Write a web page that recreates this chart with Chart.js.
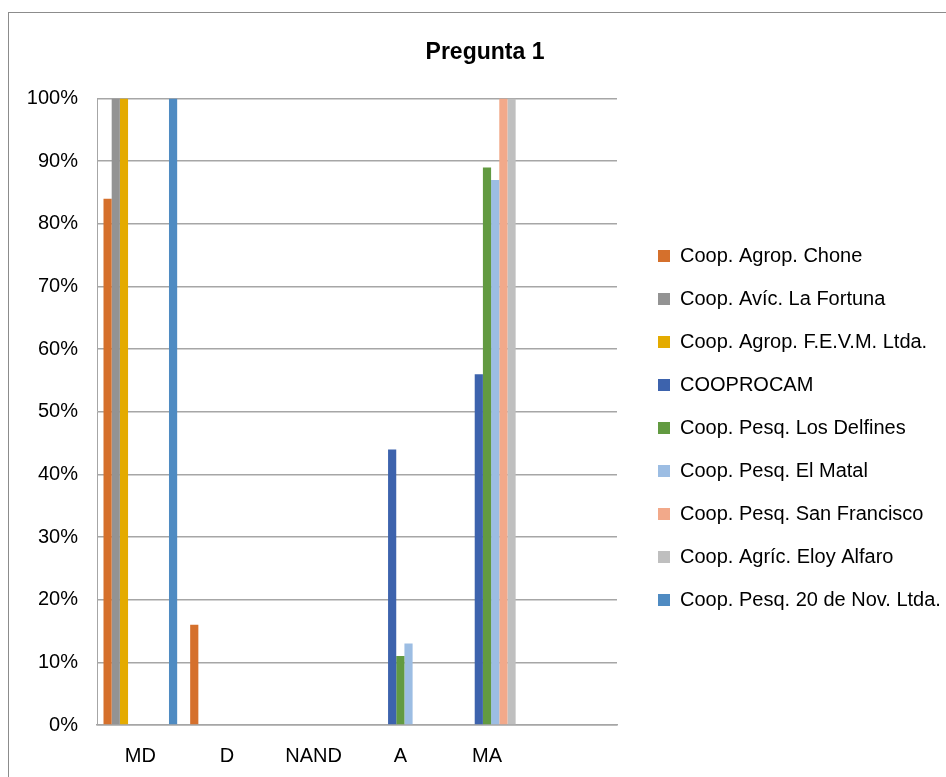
<!DOCTYPE html>
<html>
<head>
<meta charset="utf-8">
<title>Pregunta 1</title>
<script src="https://cdn.jsdelivr.net/npm/chart.js@4.4.1/dist/chart.umd.min.js"></script>
<style>
    html, body { margin: 0; padding: 0; background: #fff; overflow: hidden; }
    #frame {
        position: absolute; left: 8px; top: 12px; width: 1000px; height: 900px;
        border-left: 1px solid #8c8c8c; border-top: 1px solid #8c8c8c;
    }
    #chart { position: absolute; left: 9px; top: 13px; }
</style>
</head>
<body>
<div id="frame"></div>
<canvas id="chart" width="952" height="766"></canvas>
<script>
// Data (percent)
const categories = ['MD', 'D', 'NAND', 'A', 'MA', ''];
const seriesNames = [
    'Coop. Agrop. Chone',
    'Coop. Avíc. La Fortuna',
    'Coop. Agrop. F.E.V.M. Ltda.',
    'COOPROCAM',
    'Coop. Pesq. Los Delfines',
    'Coop. Pesq. El Matal',
    'Coop. Pesq. San Francisco',
    'Coop. Agríc. Eloy Alfaro',
    'Coop. Pesq. 20 de Nov. Ltda.'
];
const chone        = [84, 16, 0, 0, 0, 0];
const laFortuna    = [100, 0, 0, 0, 0, 0];
const fevm         = [100, 0, 0, 0, 0, 0];
const cooprocam    = [0, 0, 0, 44, 56, 0];
const losDelfines  = [0, 0, 0, 11, 89, 0];
const elMatal      = [0, 0, 0, 13, 87, 0];
const sanFrancisco = [0, 0, 0, 0, 100, 0];
const eloyAlfaro   = [0, 0, 0, 0, 100, 0];
const veinteNov    = [100, 0, 0, 0, 0, 0];
const yTicks = [0, 10, 20, 30, 40, 50, 60, 70, 80, 90, 100];

const seriesValues = [chone, laFortuna, fevm, cooprocam, losDelfines, elMatal, sanFrancisco, eloyAlfaro, veinteNov];
const colors = ['#d5702c', '#939393', '#e4ab00', '#3d63ad', '#629a41', '#9cbde3', '#f2a98a', '#bfbfbf', '#4f8bc2'];

const FONT = "'Liberation Sans', Arial, sans-serif";

// legend placement tweaks (Excel puts it further right and a bit lower)
const legendTweak = {
    id: 'legendTweak',
    beforeLayout(chart) {
        const lg = chart.legend;
        if (lg && !lg._patched) {
            const fit = lg.fit.bind(lg);
            lg.fit = function () { fit(); this.width = 344; };
            lg._patched = true;
        }
    },
    afterLayout(chart) {
        const lg = chart.legend;
        lg.left += 18; lg.right += 18;
        lg.top += 32; lg.bottom += 32;
    }
};

const ctx = document.getElementById('chart').getContext('2d');

new Chart(ctx, {
    type: 'bar',
    data: {
        labels: categories,
        datasets: seriesNames.map((name, i) => ({
            label: name,
            data: seriesValues[i],
            backgroundColor: colors[i],
            borderWidth: 0,
            categoryPercentage: 0.85,
            barPercentage: 1
        }))
    },
    options: {
        responsive: false,
        animation: false,
        layout: { padding: 0 },
        plugins: {
            title: {
                display: true,
                text: 'Pregunta 1',
                color: '#000',
                font: { family: FONT, size: 23, weight: 'bold' },
                padding: { top: 26, bottom: 32 }
            },
            legend: {
                position: 'right',
                labels: {
                    color: '#000',
                    font: { family: FONT, size: 20 },
                    boxWidth: 12,
                    boxHeight: 12,
                    padding: 23
                }
            },
            tooltip: { enabled: false }
        },
        scales: {
            x: {
                grid: { display: false, drawTicks: false },
                border: { display: true, color: '#a6a6a6', width: 1.5 },
                ticks: { color: '#000', font: { family: FONT, size: 20 }, padding: 19, maxRotation: 0 },
                afterFit(scale) { scale.height = 54; }
            },
            y: {
                min: 0,
                max: 100,
                afterBuildTicks(scale) { scale.ticks = yTicks.map(v => ({ value: v })); },
                grid: { color: '#a6a6a6', lineWidth: 1.5, drawTicks: false },
                border: { display: true, color: '#a6a6a6', width: 1 },
                ticks: {
                    color: '#000',
                    font: { family: FONT, size: 20 },
                    padding: 19,
                    callback: v => v + '%'
                },
                afterFit(scale) { scale.width = 88; }
            }
        }
    },
    plugins: [legendTweak]
});
</script>
</body>
</html>
